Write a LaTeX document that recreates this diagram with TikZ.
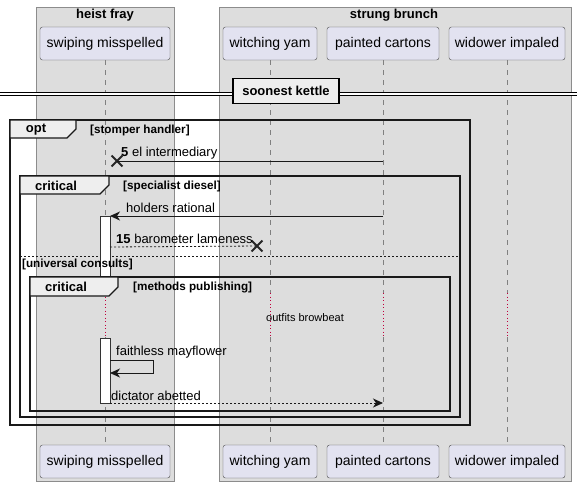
\documentclass[tikz,border=0pt]{standalone}
\usepackage{fontspec}
\setmainfont{Liberation Sans}
\usepackage[dvipsnames]{xcolor}
\usetikzlibrary{arrows.meta,shapes.misc}
\definecolor{boxgray}{HTML}{DDDDDD}
\definecolor{partfill}{HTML}{E2E2F0}
\definecolor{tabfill}{HTML}{EEEEEE}
\definecolor{delayred}{HTML}{C0003C}
\tikzset{
  party/.style={draw=black!70, fill=partfill, rounded corners=2.5pt, minimum height=33pt,
    inner sep=0pt, font=\fontsize{14}{16}\selectfont},
  life/.style={draw=gray, dash pattern=on 5pt off 5pt, line width=0.6pt},
  delayline/.style={draw=delayred, dash pattern=on 1pt off 2.5pt, line width=1pt},
  msg/.style={draw=black!90, line width=0.9pt, -{Stealth[length=10pt,width=9pt,inset=3pt]}},
  reply/.style={msg, dash pattern=on 2pt off 2pt},
  xmark/.style={cross out, draw=black!85, line width=1.8pt, minimum size=9pt, inner sep=0pt},
  frame/.style={draw=black!90, line width=1.6pt},
  tab/.style={draw=black!90, fill=tabfill, line width=1.2pt},
  txt/.style={inner sep=1pt, font=\fontsize{13}{15}\selectfont},
  guard/.style={inner sep=1pt, anchor=west, font=\fontsize{11.7}{13}\selectfont\bfseries}
}
\begin{document}
\begin{tikzpicture}[x=1pt,y=-1pt]
  \useasboundingbox (0,0) rectangle (577,483);
  \draw[fill=boxgray, draw=black!45] (36,7) rectangle (174,481);
  \draw[fill=boxgray, draw=black!45] (219,7) rectangle (571,481);
  \node[txt, font=\fontsize{13}{15}\selectfont\bfseries] (hf) at (105,15) {heist fray};
  \node[txt, font=\fontsize{13}{15}\selectfont\bfseries] (sb) at (394,15) {strung brunch};

  \node[party, minimum width=130pt] (sm) at (105,43.5) {swiping misspelled};
  \node[party, minimum width=94pt] (wy) at (270,43.5) {witching yam};
  \node[party, minimum width=112pt] (pc) at (383,43.5) {painted cartons};
  \node[party, minimum width=116pt] (wi) at (507,43.5) {widower impaled};
  \node[party, minimum width=130pt] (smb) at (105,461.5) {swiping misspelled};
  \node[party, minimum width=94pt] (wyb) at (270,461.5) {witching yam};
  \node[party, minimum width=112pt] (pcb) at (383,461.5) {painted cartons};
  \node[party, minimum width=116pt] (wib) at (507,461.5) {widower impaled};

  \foreach \p in {sm,wy,pc,wi} {
    \coordinate (\p d1) at ([yshift=-233pt]\p.south);
    \coordinate (\p d2) at ([yshift=-277pt]\p.south);
    \draw[life] (\p.south) -- (\p d1);
    \draw[delayline] (\p d1) -- (\p d2);
    \draw[life] (\p d2) -- (\p b.north);
  }

  \draw[double=white, draw=black, line width=1pt, double distance=2.5pt] (0,94) -- (577,94);
  \node[draw=black, line width=1.6pt, fill=tabfill, minimum width=106pt, minimum height=25pt,
    inner sep=0pt, font=\fontsize{13}{15}\selectfont\bfseries] (sk) at (286,91) {soonest kettle};

  \draw[frame] (10,120) rectangle (470,425);
  \draw[frame] (20,176) rectangle (460,417);
  \draw[draw=black!90, line width=0.8pt, dash pattern=on 2pt off 2pt] (20,256) -- (460,256);

  \draw[fill=white, draw=black!80, line width=0.8pt] (100,216) rectangle (110,293);
  \draw[fill=white, draw=black!80, line width=0.8pt] (100,338) rectangle (110,403);

  \draw[frame] (30,277) rectangle (450,411);
  \draw[tab] (10,120) -- (76,120) -- (76,129) -- (67,138) -- (10,138) -- cycle;
  \draw[tab] (20,176) -- (109,176) -- (109,185) -- (100,194) -- (20,194) -- cycle;
  \draw[tab] (30,277) -- (118,277) -- (118,287) -- (109,296) -- (30,296) -- cycle;
  \node[txt, font=\fontsize{13}{15}\selectfont\bfseries] (t1) at (36,130) {opt};
  \node[txt, font=\fontsize{13}{15}\selectfont\bfseries] (t2) at (56,186) {critical};
  \node[txt, font=\fontsize{13}{15}\selectfont\bfseries] (t3) at (66,287) {critical};
  \node[guard] (g1) at (89,130) {[stomper handler]};
  \node[guard] (g2) at (122,186) {[specialist diesel]};
  \node[guard] (g3) at (21,264) {[universal consults]};
  \node[guard] (g4) at (132,287) {[methods publishing]};

  \coordinate (m1a) at (383,161);
  \node[xmark] (x1) at (117,161) {};
  \draw[draw=black!90, line width=0.9pt] (m1a) -- (x1.center);
  \node[txt, anchor=south west] (l1) at (120,160) {\textbf{5} el intermediary};

  \coordinate (m2a) at (383,216);
  \coordinate (m2b) at (110,216);
  \draw[msg] (m2a) -- (m2b);
  \node[txt, anchor=south west] (l2) at (125,214) {holders rational};

  \coordinate (m3a) at (110,247);
  \node[xmark] (x2) at (257,246) {};
  \draw[draw=black!90, line width=0.8pt, dash pattern=on 2pt off 2pt] (m3a) -- (x2.center);
  \node[txt, anchor=south west] (l3) at (115,245) {\textbf{15} barometer lameness};

  \node[inner sep=1pt, font=\fontsize{11}{13}\selectfont] (dl) at (305,318) {outfits browbeat};

  \coordinate (m4a) at (110,360);
  \coordinate (m4b) at (110,373);
  \draw[msg] (m4a) -- (153,360) -- (153,373) -- (m4b);
  \node[txt, anchor=south west] (l4) at (115,359) {faithless mayflower};

  \coordinate (m5a) at (110,403);
  \coordinate (m5b) at (383,403);
  \draw[reply] (m5a) -- (m5b);
  \node[txt, anchor=south west] (l5) at (110,402) {dictator abetted};
\end{tikzpicture}
\end{document}
